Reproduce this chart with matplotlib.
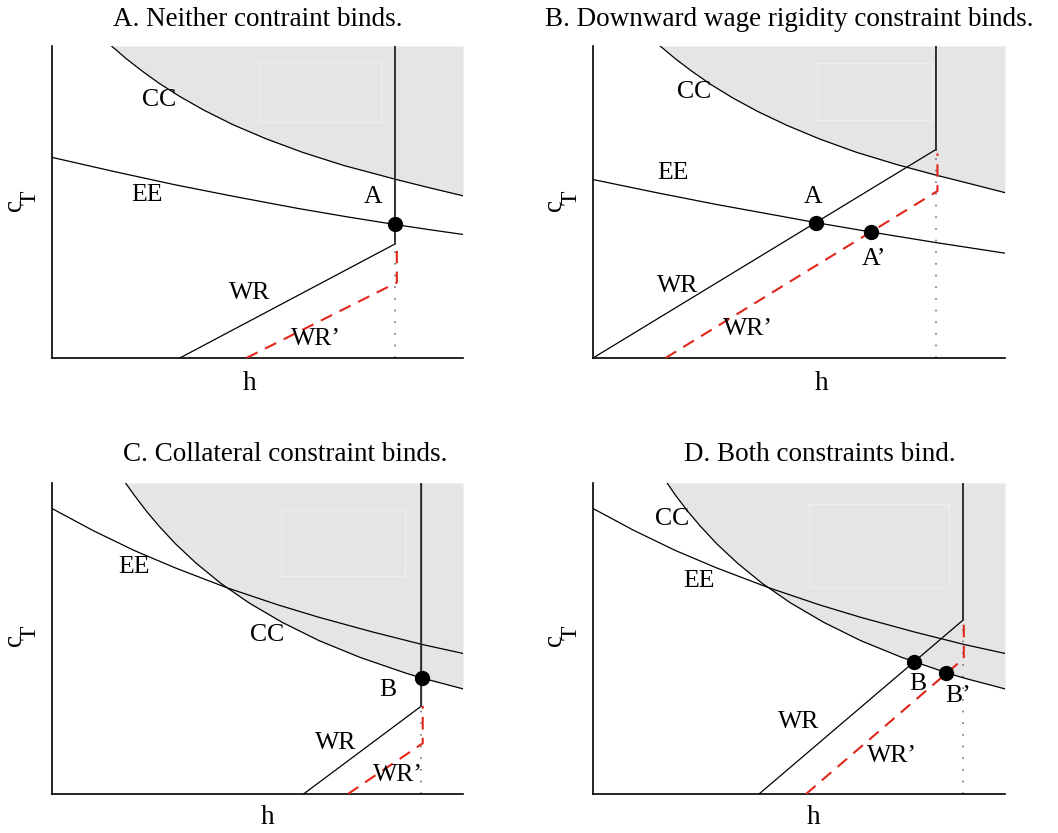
import matplotlib
matplotlib.use('Agg')
import matplotlib.pyplot as plt
from matplotlib.patches import Rectangle

plt.rcParams['font.family'] = ['Liberation Serif', 'DejaVu Serif']

# ---- Panel A: neither constraint binds ----
CC_A_X = [0.145, 0.18, 0.22, 0.26, 0.31, 0.37, 0.44, 0.52, 0.61, 0.71, 0.835, 0.92, 1.0]
CC_A_Y = [1.0, 0.960, 0.919, 0.881, 0.839, 0.794, 0.748, 0.703, 0.659, 0.617, 0.573, 0.545, 0.520]
EE_A_X = [0.0, 0.15, 0.3, 0.45, 0.6, 0.72, 0.834, 0.92, 1.0]
EE_A_Y = [0.643, 0.598, 0.555, 0.516, 0.479, 0.452, 0.428, 0.411, 0.396]
WR_A_X = [0.311, 0.834, 0.834]
WR_A_Y = [0.0, 0.365, 1.0]
WRP_A_X = [0.473, 0.839, 0.839]
WRP_A_Y = [0.0, 0.242, 0.365]
PTS_A_X = [0.834]
PTS_A_Y = [0.428]

# ---- Panel B: downward wage rigidity binds ----
CC_B_X = [0.163, 0.2, 0.24, 0.288, 0.34, 0.40, 0.47, 0.55, 0.64, 0.74, 0.83, 0.92, 1.0]
CC_B_Y = [1.0, 0.959, 0.919, 0.875, 0.833, 0.790, 0.746, 0.702, 0.659, 0.619, 0.587, 0.557, 0.530]
EE_B_X = [0.0, 0.15, 0.3, 0.45, 0.541, 0.674, 0.832, 1.0]
EE_B_Y = [0.572, 0.531, 0.492, 0.456, 0.434, 0.404, 0.370, 0.336]
WR_B_X = [0.0, 0.832, 0.832]
WR_B_Y = [0.0, 0.668, 1.0]
WRP_B_X = [0.176, 0.836, 0.836]
WRP_B_Y = [0.0, 0.535, 0.656]
PTS_B_X = [0.541, 0.674]
PTS_B_Y = [0.434, 0.404]

# ---- Panel C: collateral constraint binds ----
CC_C_X = [0.179, 0.20, 0.23, 0.26, 0.30, 0.35, 0.41, 0.48, 0.56, 0.65, 0.75, 0.86, 0.90, 1.0]
CC_C_Y = [1.0, 0.961, 0.909, 0.862, 0.805, 0.743, 0.678, 0.614, 0.552, 0.493, 0.439, 0.389, 0.373, 0.338]
EE_C_X = [0.0, 0.1, 0.2, 0.3, 0.424, 0.55, 0.65, 0.78, 0.9, 1.0]
EE_C_Y = [0.918, 0.847, 0.783, 0.727, 0.664, 0.608, 0.568, 0.521, 0.481, 0.452]
WR_C_X = [0.612, 0.899, 0.899]
WR_C_Y = [0.0, 0.283, 1.0]
WRP_C_X = [0.720, 0.902, 0.902]
WRP_C_Y = [0.0, 0.163, 0.283]
PTS_C_X = [0.900]
PTS_C_Y = [0.372]

# ---- Panel D: both constraints bind ----
CC_D_X = [0.180, 0.20, 0.23, 0.26, 0.30, 0.35, 0.41, 0.48, 0.56, 0.65, 0.75, 0.86, 0.90, 1.0]
CC_D_Y = [1.0, 0.961, 0.909, 0.862, 0.805, 0.743, 0.678, 0.614, 0.552, 0.493, 0.439, 0.389, 0.373, 0.338]
EE_D_X = [0.0, 0.1, 0.2, 0.3, 0.425, 0.55, 0.65, 0.78, 0.9, 1.0]
EE_D_Y = [0.918, 0.847, 0.783, 0.727, 0.664, 0.608, 0.568, 0.521, 0.481, 0.452]
WR_D_X = [0.403, 0.898, 0.898]
WR_D_Y = [0.0, 0.559, 1.0]
WRP_D_X = [0.517, 0.900, 0.900]
WRP_D_Y = [0.0, 0.436, 0.559]
PTS_D_X = [0.780, 0.857]
PTS_D_Y = [0.425, 0.389]

TITLES = ['A. Neither contraint binds.',
          'B. Downward wage rigidity constraint binds.',
          'C. Collateral constraint binds.',
          'D. Both constraints bind.']

# text labels inside each panel: (text, x, y) in axes units
LABELS = [
    [('CC', 0.260, 0.827), ('EE', 0.231, 0.522), ('A', 0.780, 0.517),
     ('WR', 0.481, 0.209), ('WR\u2019', 0.643, 0.062)],
    [('CC', 0.246, 0.854), ('EE', 0.195, 0.592), ('A', 0.533, 0.517),
     ('A\u2019', 0.682, 0.316), ('WR', 0.206, 0.230), ('WR\u2019', 0.376, 0.094)],
    [('EE', 0.199, 0.730), ('CC', 0.524, 0.511), ('B', 0.818, 0.334),
     ('WR', 0.690, 0.165), ('WR\u2019', 0.842, 0.061)],
    [('CC', 0.193, 0.885), ('EE', 0.257, 0.685), ('B', 0.788, 0.355),
     ('B\u2019', 0.887, 0.315), ('WR', 0.498, 0.232), ('WR\u2019', 0.725, 0.122)],
]

# faint box left in the shaded area (x0, y0, w, h)
BOXES = [(0.505, 0.757, 0.296, 0.193), (0.544, 0.763, 0.278, 0.184),
         (0.558, 0.700, 0.302, 0.212), (0.525, 0.666, 0.340, 0.268)]

W, H = 1058, 833
# axes pixel boxes: left, top, right, bottom
AX_PX = [(52, 46, 463, 358), (593, 46, 1005, 358),
         (52, 483, 463, 794), (593, 483, 1005, 794)]
TITLE_PX = [(258, 20), (789, 20), (285, 455), (820, 455)]
XLAB_PX = [(250, 383), (822, 383), (268, 818), (814, 818)]
YLAB_PX = [(14, 205), (555, 205), (14, 640), (555, 640)]

panels = [
    (CC_A_X, CC_A_Y, EE_A_X, EE_A_Y, WR_A_X, WR_A_Y, WRP_A_X, WRP_A_Y, PTS_A_X, PTS_A_Y),
    (CC_B_X, CC_B_Y, EE_B_X, EE_B_Y, WR_B_X, WR_B_Y, WRP_B_X, WRP_B_Y, PTS_B_X, PTS_B_Y),
    (CC_C_X, CC_C_Y, EE_C_X, EE_C_Y, WR_C_X, WR_C_Y, WRP_C_X, WRP_C_Y, PTS_C_X, PTS_C_Y),
    (CC_D_X, CC_D_Y, EE_D_X, EE_D_Y, WR_D_X, WR_D_Y, WRP_D_X, WRP_D_Y, PTS_D_X, PTS_D_Y),
]

fig = plt.figure(figsize=(W / 100, H / 100), dpi=100)

for i, (ccx, ccy, eex, eey, wrx, wry, wpx, wpy, px, py) in enumerate(panels):
    l, t, r, b = AX_PX[i]
    ax = fig.add_axes([l / W, 1 - b / H, (r - l) / W, (b - t) / H])
    ax.set_xlim(0, 1)
    ax.set_ylim(0, 1)

    # shaded region above CC
    ax.fill_between(ccx, ccy, 1.0, color='#e5e5e5', lw=0, zorder=0)
    bx = BOXES[i]
    ax.add_patch(Rectangle((bx[0], bx[1]), bx[2], bx[3], fill=False,
                           edgecolor='#eeeeee', lw=1.0, zorder=0.5))

    ax.plot(ccx, ccy, color='black', lw=0.9, zorder=2)
    ax.plot(eex, eey, color='black', lw=0.9, zorder=2)

    # dotted full-employment line below the WR kink
    ax.plot([wrx[1], wrx[1]], [0, wry[1]], color='#777777', lw=1.2,
            linestyle=(0, (1, 6)), zorder=1)
    ax.plot(wrx, wry, color='black', lw=0.9, zorder=2)
    ax.plot(wrx[1:], wry[1:], color='#333333', lw=1.3, zorder=2)
    ax.plot(wpx, wpy, color='#e2261a', lw=1.5, linestyle=(0, (6, 4)), zorder=3)

    ax.plot(px, py, 'o', color='black', ms=10, zorder=4)

    for txt, tx, ty in LABELS[i]:
        ax.text(tx, ty, txt, fontsize=18.5, ha='center', va='center', zorder=5)

    for side in ['top', 'right']:
        ax.spines[side].set_visible(False)
    for side in ['left', 'bottom']:
        ax.spines[side].set_linewidth(1.2)
    ax.set_xticks([])
    ax.set_yticks([])

    fig.text(TITLE_PX[i][0] / W, 1 - TITLE_PX[i][1] / H, TITLES[i],
             fontsize=19.5, ha='center', va='center')
    fig.text(XLAB_PX[i][0] / W, 1 - XLAB_PX[i][1] / H, 'h',
             fontsize=19.5, ha='center', va='center')
    cx, cy = YLAB_PX[i]
    fig.text(cx / W, 1 - cy / H, 'c', fontsize=19.5, rotation=90,
             ha='center', va='center')
    fig.text((cx + 16) / W, 1 - (cy - 7) / H, 'T', fontsize=17, rotation=90,
             ha='center', va='center')

fig.savefig('out.png', dpi=100)
